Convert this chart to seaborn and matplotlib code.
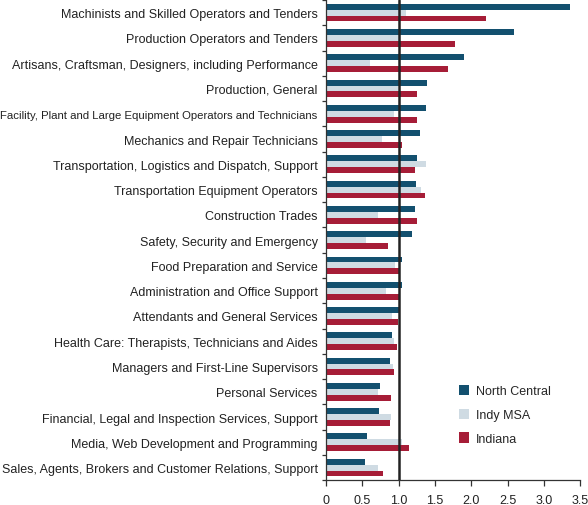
import pandas as pd
import matplotlib
matplotlib.use('Agg')
import matplotlib.pyplot as plt
import seaborn as sns
from matplotlib.ticker import FixedLocator

# --- Data ---
categories = [
    'Machinists and Skilled Operators and Tenders',
    'Production Operators and Tenders',
    'Artisans, Craftsman, Designers, including Performance',
    'Production, General',
    'Facility, Plant and Large Equipment Operators and Technicians',
    'Mechanics and Repair Technicians',
    'Transportation, Logistics and Dispatch, Support',
    'Transportation Equipment Operators',
    'Construction Trades',
    'Safety, Security and Emergency',
    'Food Preparation and Service',
    'Administration and Office Support',
    'Attendants and General Services',
    'Health Care: Therapists, Technicians and Aides',
    'Managers and First-Line Supervisors',
    'Personal Services',
    'Financial, Legal and Inspection Services, Support',
    'Media, Web Development and Programming',
    'Sales, Agents, Brokers and Customer Relations, Support',
]
north_central = [3.36, 2.59, 1.90, 1.39, 1.38, 1.29, 1.25, 1.24, 1.23, 1.19,
                 1.05, 1.04, 1.00, 0.91, 0.88, 0.75, 0.73, 0.57, 0.54]
indy_msa = [1.10, 1.00, 0.60, 0.99, 0.93, 0.77, 1.38, 1.31, 0.71, 0.55,
            0.95, 0.82, 0.91, 0.93, 0.92, 0.72, 0.90, 1.05, 0.72]
indiana = [2.20, 1.78, 1.68, 1.26, 1.25, 1.05, 1.23, 1.36, 1.25, 0.85,
           1.01, 1.01, 0.99, 0.98, 0.93, 0.89, 0.88, 1.15, 0.79]
series = ['North Central', 'Indy MSA', 'Indiana']
colors = ['#13506f', '#cfdbe3', '#a61d37']
x_ticks = [0, 0.5, 1.0, 1.5, 2.0, 2.5, 3.0, 3.5]
x_tick_labels = ['0', '0.5', '1.0', '1.5', '2.0', '2.5', '3.0', '3.5']

df = pd.DataFrame({
    'category': categories * 3,
    'value': north_central + indy_msa + indiana,
    'region': [s for s in series for _ in categories],
})

sns.set_style('white')
plt.rcParams['font.family'] = ['Liberation Sans', 'DejaVu Sans']

fig = plt.figure(figsize=(5.88, 5.06), dpi=100)
ax = fig.add_axes([0.5544, 0.049, 0.4322, 0.949])

sns.barplot(data=df, x='value', y='category', hue='region', hue_order=series,
            palette=colors, orient='h', width=0.7, ax=ax, saturation=1,
            linewidth=0, legend=True)

ax.axvline(1.0, color='#222222', lw=1.8, zorder=5)

ax.set_xlim(0, 3.5)
ax.set_ylim(len(categories) - 0.5, -0.5)
ax.set_xticks(x_ticks)
ax.set_xticklabels(x_tick_labels)
ax.set_xlabel('')
ax.set_ylabel('')

for s in ['top', 'right']:
    ax.spines[s].set_visible(False)
for s in ['left', 'bottom']:
    ax.spines[s].set_color('#333333')
    ax.spines[s].set_linewidth(0.9)

ax.tick_params(axis='x', bottom=True, length=4, width=0.9, color='#333333',
               labelsize=9, labelcolor='#222222', pad=6)
ax.tick_params(axis='y', which='major', length=0, labelsize=9,
               labelcolor='#222222', pad=6)
ax.yaxis.set_minor_locator(FixedLocator([i + 0.5 for i in range(-1, len(categories))]))
ax.tick_params(axis='y', which='minor', left=True, length=3, width=0.9, color='#333333')

# the long facility label is squeezed in the original
for lab in ax.get_yticklabels():
    if lab.get_text().startswith('Facility'):
        lab.set_fontsize(8.2)

ax.legend(loc='lower right', bbox_to_anchor=(0.93, 0.05), frameon=False,
          fontsize=9, handlelength=0.8, handleheight=0.9, labelspacing=0.9,
          handletextpad=0.6)

fig.savefig('out.png', dpi=100)
